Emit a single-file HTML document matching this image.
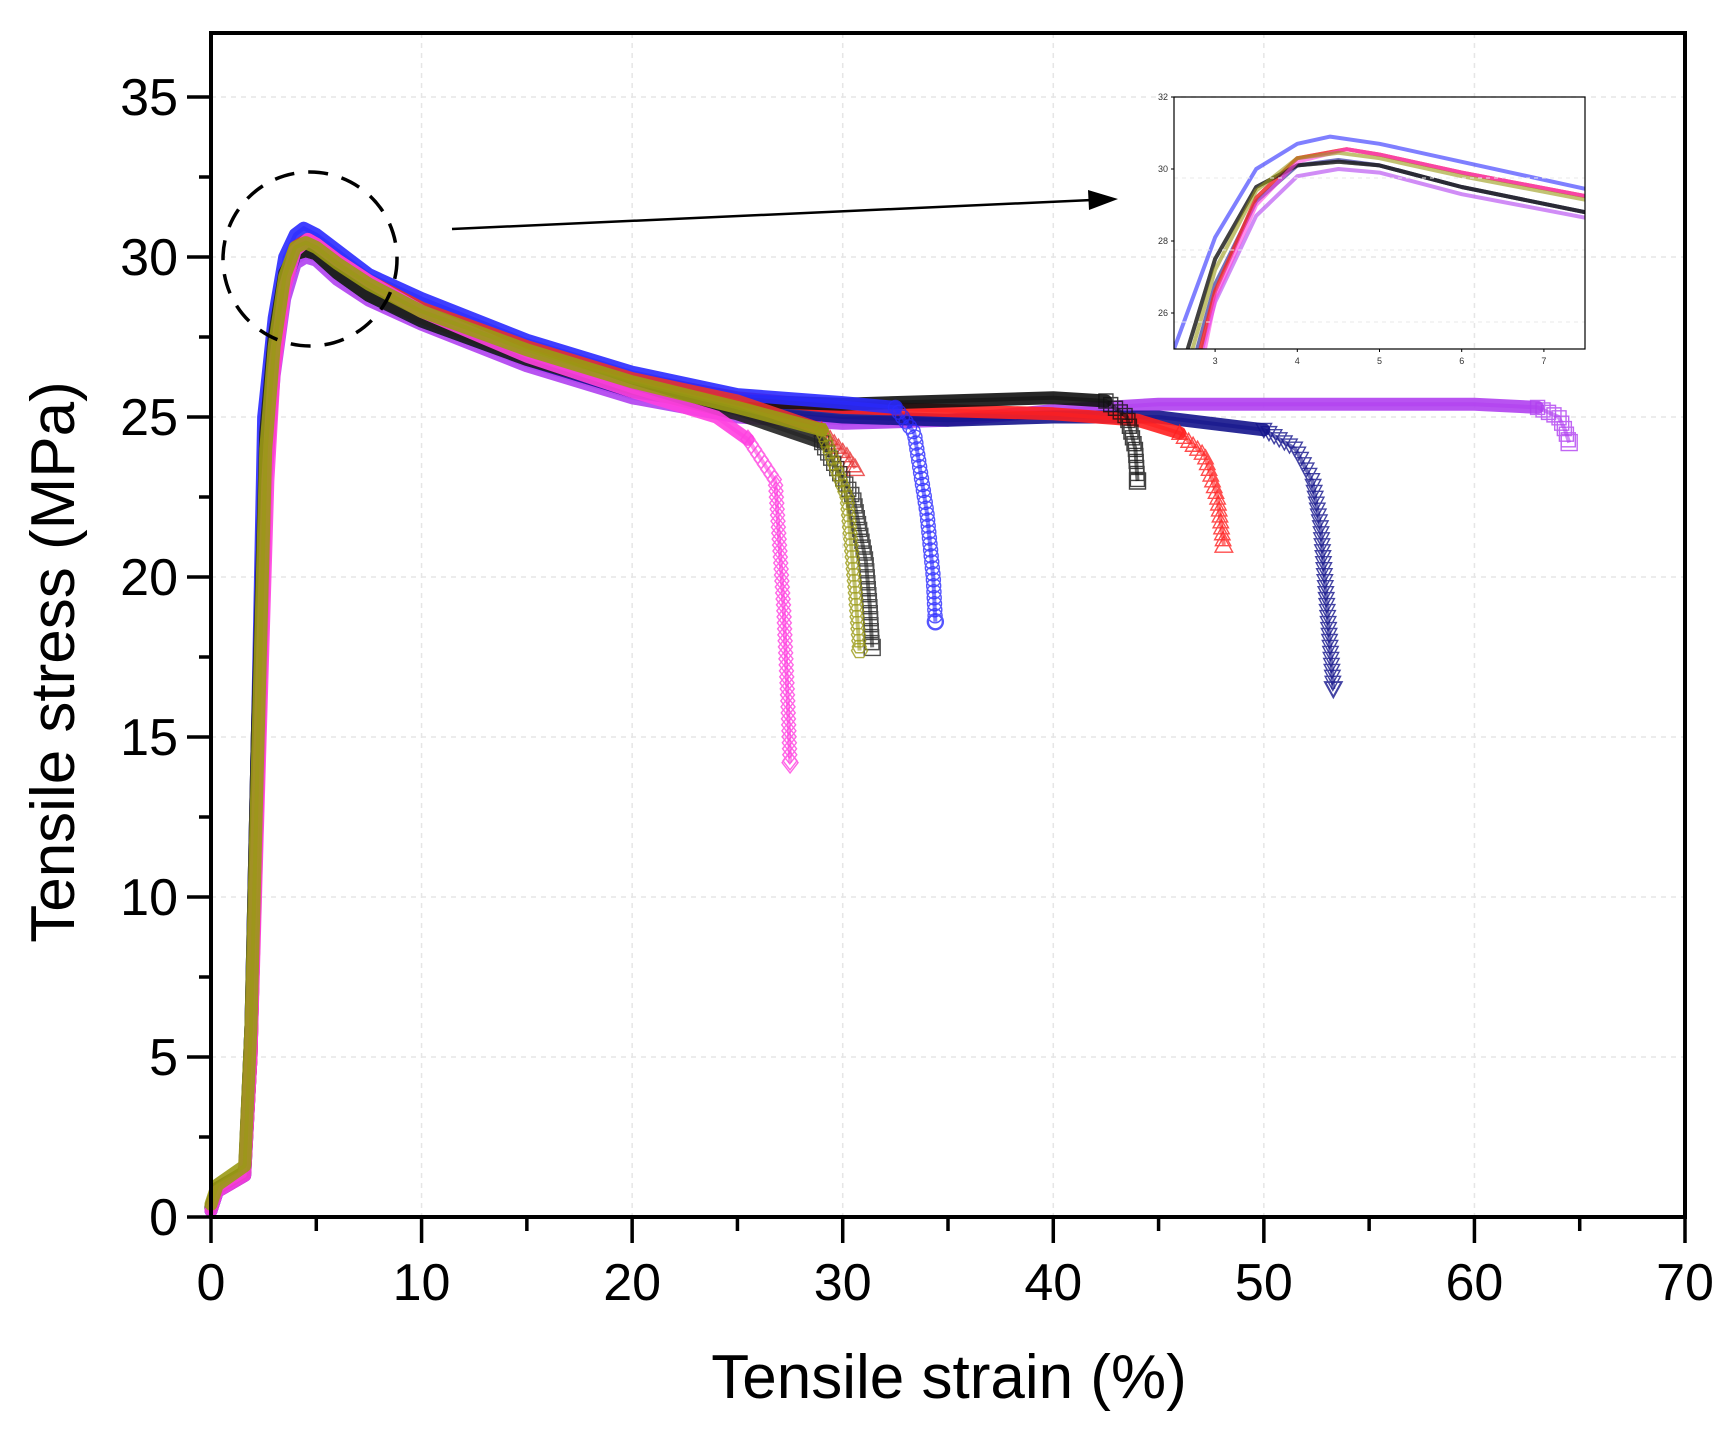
<!DOCTYPE html>
<html><head><meta charset="utf-8"><style>
html,body{margin:0;padding:0;background:#fff;}
svg{display:block;font-family:"Liberation Sans",Arial,sans-serif;}
</style></head><body>
<svg id="chart" width="1730" height="1432" viewBox="0 0 1730 1432" xmlns="http://www.w3.org/2000/svg">
<g id="grid"></g>
<g id="series"></g>
<g id="axes"></g>
<g id="inset"></g>
<circle cx="310" cy="259" r="87" fill="none" stroke="#000" stroke-width="3.5" stroke-dasharray="20,14"/>
<line x1="452" y1="229" x2="1092" y2="200" stroke="#000" stroke-width="2.5"/>
<polygon points="1118,199 1088,190 1089,210" fill="#000"/>
<text x="949" y="1398" font-size="62" text-anchor="middle">Tensile strain (%)</text>
<text transform="translate(74,662) rotate(-90)" font-size="62" text-anchor="middle">Tensile stress (MPa)</text>
</svg>
<script>
const NS="http://www.w3.org/2000/svg";
const xTicks=[0,10,20,30,40,50,60,70];
const yTicks=[0,5,10,15,20,25,30,35];
const insetXTicks=[3,4,5,6,7];
const insetYTicks=[26,28,30,32];
const seriesNames=["purple","navy","red","blackB","blue","red2","blackA","magenta","olive"];
const seriesColors=["#b040f0","#14148c","#ff2020","#111111","#2a2aff","#e83030","#222222","#ff40e0","#9a9a14"];
const seriesMarkers=["square","tridown","triup","square","circle","triup","square","diamond","hex"];
const seriesX={
 purple:[0,0.3,1.6,1.9,2.2,2.6,3.0,3.5,4.0,4.5,5.0,6.0,7.5,10,15,20,25,30,35,40,45,50,55,60,63,64,64.3,64.5],
 navy:[0,0.3,1.6,1.9,2.2,2.6,3.0,3.5,4.0,4.5,5.0,6.0,7.5,10,15,20,25,30,35,40,45,50,51.5,52.3,52.7,53,53.3],
 red:[0,0.3,1.6,1.9,2.2,2.6,3.0,3.5,4.0,4.6,5.0,6.0,7.5,10,15,20,25,30,35,40,44,46,47.2,47.8,48.1],
 blackB:[0,0.3,1.6,1.9,2.2,2.6,3.0,3.5,4.0,4.5,5.0,6.0,7.5,10,15,20,25,30,35,40,42.5,43.5,43.9,44],
 blue:[0,0.3,1.6,1.9,2.2,2.5,3.0,3.5,4.0,4.4,5.0,6.0,7.5,10,15,20,25,30,32.5,33.4,34,34.3,34.4],
 red2:[0,0.3,1.6,1.9,2.2,2.6,3.0,3.5,4.0,4.6,5.0,6.0,7.5,10,15,20,25,29,30.2,30.6],
 blackA:[0,0.3,1.6,1.9,2.2,2.6,3.0,3.5,4.0,4.5,5.0,6.0,7.5,10,15,20,25,29,30.5,31.1,31.3,31.4],
 magenta:[0,0.3,1.6,1.9,2.2,2.7,3.0,3.5,4.0,4.6,5.0,6.0,7.5,10,15,20,24,25.5,26.8,27.2,27.4,27.5],
 olive:[0,0.3,1.6,1.9,2.2,2.6,3.0,3.5,4.0,4.5,5.0,6.0,7.5,10,15,20,25,29,30.2,30.6,30.8]
};
const seriesY={
 purple:[0.2,0.8,1.3,5,13,23,26.3,28.7,29.8,30.0,29.9,29.3,28.65,27.9,26.6,25.6,25.0,24.8,24.9,25.2,25.4,25.4,25.4,25.4,25.3,25.0,24.6,24.2],
 navy:[0.2,0.8,1.3,5,13,23.5,26.8,29.1,30.1,30.25,30.1,29.5,28.8,28.0,26.8,25.8,25.3,25.0,24.9,25.0,25.0,24.6,24.0,23.0,21.5,19,16.5],
 red:[0.3,0.9,1.4,5,13,23,26.6,29.2,30.3,30.55,30.4,29.9,29.25,28.4,27.2,26.2,25.6,25.3,25.2,25.1,24.9,24.5,23.8,22.5,21],
 blackB:[0.3,0.9,1.4,6,15,24.5,27.5,29.5,30.1,30.2,30.1,29.5,28.8,28.1,26.9,25.9,25.5,25.4,25.5,25.6,25.5,25.0,24.0,23.0],
 blue:[0.2,0.8,1.4,6,15,25,28.1,30,30.7,30.9,30.7,30.2,29.45,28.7,27.4,26.4,25.7,25.45,25.3,24.5,22,20,18.6],
 red2:[0.3,0.9,1.4,5,13,23,26.6,29.2,30.3,30.55,30.4,29.9,29.25,28.4,27.2,26.2,25.5,24.6,23.8,23.4],
 blackA:[0.3,0.9,1.4,6,15,24.5,27.5,29.5,30.1,30.2,30.1,29.5,28.8,28.0,26.8,25.9,25.1,24.2,22.5,20.5,19,17.8],
 magenta:[0.2,0.8,1.3,5,12,23,26.4,29.0,30.2,30.55,30.4,29.9,29.25,28.3,26.9,25.8,25.0,24.3,23,19,16,14.2],
 olive:[0.4,1.0,1.6,6,14,24,27.2,29.4,30.3,30.45,30.3,29.8,29.15,28.3,27.1,26.1,25.3,24.6,22.5,19.5,17.7]
};
const dropStart={purple:62,navy:50,red:45,blackB:42.5,blue:32.5,red2:29,blackA:29,magenta:25.5,olive:29};

const X0=211,X1=1685,Y0=1217,YT=33;
const xs=v=>X0+(v-0)/70*(X1-X0);
const ys=v=>Y0-(v-0)/37*(Y0-YT);
const IX0=1174,IX1=1585,IY0=349,IY1=97;
const ixs=v=>IX0+(v-2.5)/5*(IX1-IX0);
const iys=v=>IY0-(v-25)/7*(IY0-IY1);

function mk(tag,attrs,parent){const e=document.createElementNS(NS,tag);for(const k in attrs)e.setAttribute(k,attrs[k]);parent.appendChild(e);return e;}
const grid=document.getElementById('grid'),axes=document.getElementById('axes'),sg=document.getElementById('series'),inset=document.getElementById('inset');

xTicks.forEach(t=>{
 if(t>0&&t<70){const g=mk('line',{x1:xs(t),x2:xs(t),y1:YT,y2:Y0,stroke:'#e6e6e6','stroke-width':1.5,'stroke-dasharray':'5,5'},grid);
 
 }
});
yTicks.forEach(t=>{
 if(t>0){const g=mk('line',{x1:X0,x2:X1,y1:ys(t),y2:ys(t),stroke:'#e6e6e6','stroke-width':1.5,'stroke-dasharray':'5,5'},grid);
 
 }
});

function markerPath(type,x,y,s){
 switch(type){
  case 'circle':return `M${x-s},${y}a${s},${s} 0 1,0 ${2*s},0a${s},${s} 0 1,0 ${-2*s},0`;
  case 'square':return `M${x-s},${y-s}h${2*s}v${2*s}h${-2*s}z`;
  case 'triup':return `M${x},${y-s*1.1}L${x+s*1.1},${y+s*0.9}L${x-s*1.1},${y+s*0.9}z`;
  case 'tridown':return `M${x},${y+s*1.1}L${x+s*1.1},${y-s*0.9}L${x-s*1.1},${y-s*0.9}z`;
  case 'diamond':return `M${x},${y-s*1.3}L${x+s},${y}L${x},${y+s*1.3}L${x-s},${y}z`;
  default:{let d='';for(let i=0;i<6;i++){const a=Math.PI/3*i;d+=(i?'L':'M')+(x+s*Math.cos(a))+','+(y+s*Math.sin(a));}return d+'z';}
 }
}

seriesNames.forEach((n,i)=>{
 const X=seriesX[n],Y=seriesY[n],col=seriesColors[i];
 const g=mk('g',{},sg);
 
 
 let d='',dd='';
 X.forEach((x,j)=>{d+=(j?'L':'M')+xs(x)+','+ys(Y[j]);});
 const k=X.findIndex(x=>x>=dropStart[n]);
 let dMain='';
 for(let j=0;j<=k;j++)dMain+=(j?'L':'M')+xs(X[j])+','+ys(Y[j]);
 const band=mk('path',{d:dMain,fill:'none',stroke:col,'stroke-width':13,'stroke-linejoin':'round','stroke-linecap':'round','stroke-opacity':0.9},g);
 
 
 const thin=mk('path',{d:d,fill:'none',stroke:col,'stroke-width':4,'stroke-linejoin':'round','stroke-opacity':0.6},g);
 
 
 for(let j=k;j<X.length;j++)dd+=(j>k?'L':'M')+xs(X[j])+','+ys(Y[j]);
 const tmp=mk('path',{d:dd,fill:'none',stroke:'none'},g);
 const L=tmp.getTotalLength();let md='';
 for(let l=0;l<=L;l+=6){const p=tmp.getPointAtLength(l);md+=markerPath(seriesMarkers[i],p.x,p.y,7);}
 const last=tmp.getPointAtLength(L);md+=markerPath(seriesMarkers[i],last.x,last.y,8);
 g.removeChild(tmp);
 const m=mk('path',{d:md,fill:'none',stroke:col,'stroke-width':1.4,'stroke-opacity':0.8},g);
 
 
 const ig=mk('g',{'clip-path':'url(#insetclip)'},inset);
 
 
 let id='';
 X.forEach((x,j)=>{if(x>=2&&x<=10)id+=(id?'L':'M')+ixs(x)+','+iys(Y[j]);});
 mk('path',{d:id,fill:'none',stroke:col,'stroke-width':4,'stroke-opacity':0.6,'stroke-linejoin':'round'},ig);
});

const fr=mk('rect',{x:X0,y:YT,width:X1-X0,height:Y0-YT,fill:'none',stroke:'#000','stroke-width':4},axes);


xTicks.forEach(t=>{
 mk('line',{x1:xs(t),x2:xs(t),y1:Y0,y2:Y0+26,stroke:'#000','stroke-width':3.5},axes);
 if(t<70)mk('line',{x1:xs(t+5),x2:xs(t+5),y1:Y0,y2:Y0+14,stroke:'#000','stroke-width':3.5},axes);
 const tx=mk('text',{x:xs(t),y:1300,'font-size':52,'text-anchor':'middle'},axes);tx.textContent=t;
 
 
});
yTicks.forEach(t=>{
 mk('line',{x1:X0-24,x2:X0,y1:ys(t),y2:ys(t),stroke:'#000','stroke-width':3.5},axes);
 if(t<35)mk('line',{x1:X0-12,x2:X0,y1:ys(t+2.5),y2:ys(t+2.5),stroke:'#000','stroke-width':3.5},axes);
 const tx=mk('text',{x:X0-33,y:ys(t)+18,'font-size':52,'text-anchor':'end'},axes);tx.textContent=t;
 
 
});

const defs=mk('defs',{},document.getElementById('chart'));
const cp=mk('clipPath',{id:'insetclip'},defs);
mk('rect',{x:IX0,y:IY1,width:IX1-IX0,height:IY0-IY1},cp);
insetYTicks.forEach(t=>{
 if(t<32){const gl=mk('line',{x1:IX0,x2:IX1,y1:iys(t-0.25),y2:iys(t-0.25),stroke:'#e8e8e8','stroke-dasharray':'4,4'},inset);
 
 }
 mk('line',{x1:IX0-3,x2:IX0,y1:iys(t),y2:iys(t),stroke:'#000','stroke-width':1},inset);
 const tx=mk('text',{x:IX0-6,y:iys(t)+3,'font-size':9,'text-anchor':'end',fill:'#333'},inset);tx.textContent=t;
 
 
});
insetXTicks.forEach(t=>{
 mk('line',{x1:ixs(t),x2:ixs(t),y1:IY0,y2:IY0+3,stroke:'#000','stroke-width':1},inset);
 const tx=mk('text',{x:ixs(t),y:IY0+15,'font-size':9,'text-anchor':'middle',fill:'#333'},inset);tx.textContent=t;
 
 
});
const ifr=mk('rect',{x:IX0,y:IY1,width:IX1-IX0,height:IY0-IY1,fill:'none',stroke:'#000','stroke-width':1.2},inset);


</script>
</body></html>
